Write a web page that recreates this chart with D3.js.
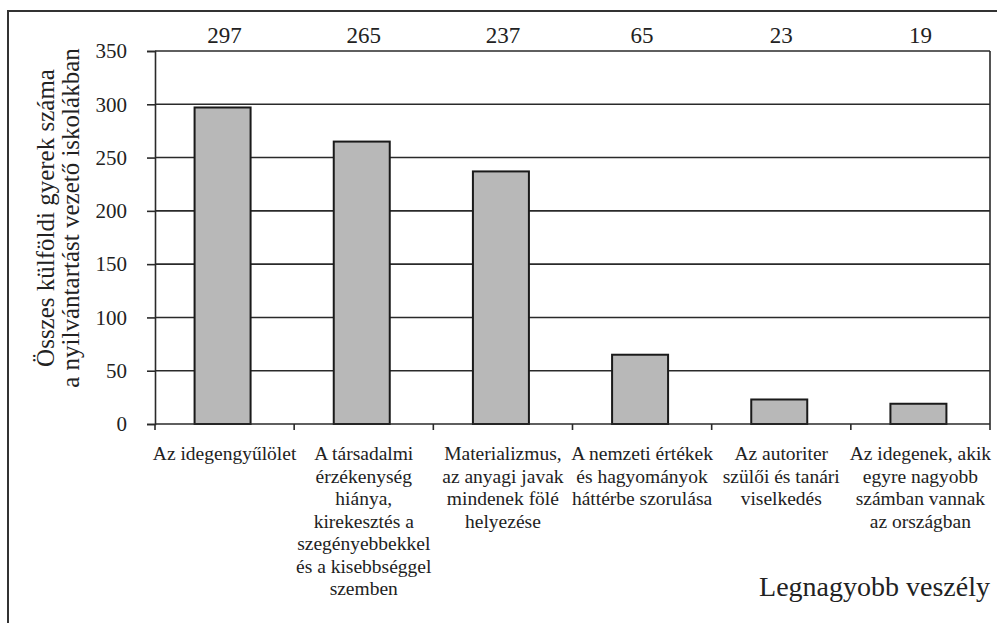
<!DOCTYPE html>
<html>
<head>
<meta charset="utf-8">
<script src="https://cdn.jsdelivr.net/npm/d3@7/dist/d3.min.js"></script>
<style>
  html, body { margin: 0; padding: 0; background: #fff; }
  svg { display: block; }
</style>
</head>
<body>
<svg id="chart" width="997" height="623"></svg>
<script>
// Category labels (line-broken as printed under each bar)
const categories = [
  ["Az idegengyűlölet"],
  ["A társadalmi", "érzékenység", "hiánya,", "kirekesztés a", "szegényebbekkel", "és a kisebbséggel", "szemben"],
  ["Materializmus,", "az anyagi javak", "mindenek fölé", "helyezése"],
  ["A nemzeti értékek", "és hagyományok", "háttérbe szorulása"],
  ["Az autoriter", "szülői és tanári", "viselkedés"],
  ["Az idegenek, akik", "egyre nagyobb", "számban vannak", "az országban"]
];
const values = [297, 265, 237, 65, 23, 19];
const yTicks = [0, 50, 100, 150, 200, 250, 300, 350];
const yTitle = ["Összes külföldi gyerek száma", "a nyilvántartást vezető iskolákban"];
const xTitle = "Legnagyobb veszély";

const SERIF = '"Liberation Serif", "Times New Roman", serif';
const INK = "#222";
const LINE = "#2a2a2a";

const svg = d3.select("#chart");
const x0 = 155, x1 = 990;
const yTop = 51, yBot = 424;

const x = d3.scaleBand().domain(d3.range(categories.length)).range([x0, x1]);
const y = d3.scaleLinear().domain([0, 350]).range([yBot, yTop]);

// outer frame
svg.append("rect").attr("x", 8).attr("y", 11).attr("width", 1000).attr("height", 700)
  .attr("fill", "none").attr("stroke", "#333").attr("stroke-width", 2);

// horizontal gridlines
svg.append("g").selectAll("line").data(yTicks.filter(d => d > 0)).join("line")
  .attr("x1", x0).attr("x2", x1)
  .attr("y1", d => y(d)).attr("y2", d => y(d))
  .attr("stroke", LINE).attr("stroke-width", 1.6);

// right border of plot area
svg.append("line").attr("x1", x1).attr("x2", x1).attr("y1", yTop).attr("y2", yBot)
  .attr("stroke", LINE).attr("stroke-width", 1.6);

// bars
const barW = 56;
svg.append("g").selectAll("rect").data(values).join("rect")
  .attr("x", (d, i) => x(i) + x.bandwidth() / 2 - barW / 2 - 2)
  .attr("width", barW)
  .attr("y", d => y(d))
  .attr("height", d => y(0) - y(d))
  .attr("fill", "#b8b8b8")
  .attr("stroke", "#1a1a1a").attr("stroke-width", 2);

// y axis
const yAxis = d3.axisLeft(y).tickValues(yTicks).tickSize(8).tickPadding(20);
const gy = svg.append("g").attr("transform", `translate(${x0},0)`).call(yAxis);
gy.select(".domain").attr("stroke", LINE).attr("stroke-width", 1.6);
gy.selectAll(".tick line").attr("stroke", LINE).attr("stroke-width", 1.6);
gy.selectAll(".tick text").attr("font-size", 21).attr("fill", INK)
  .style("font-family", SERIF);

// x axis baseline with ticks at category boundaries
svg.append("line").attr("x1", x0).attr("x2", x1).attr("y1", yBot).attr("y2", yBot)
  .attr("stroke", LINE).attr("stroke-width", 1.6);
const bounds = d3.range(categories.length + 1).map(i => x0 + i * x.bandwidth());
svg.append("g").selectAll("line").data(bounds).join("line")
  .attr("x1", d => d).attr("x2", d => d)
  .attr("y1", yBot).attr("y2", yBot + 6)
  .attr("stroke", LINE).attr("stroke-width", 1.6);

// category labels
const cl = svg.append("g").attr("font-size", 19.5).attr("fill", INK)
  .style("font-family", SERIF).attr("text-anchor", "middle");
categories.forEach((lines, i) => {
  const cx = x(i) + x.bandwidth() / 2;
  const t = cl.append("text").attr("x", cx).attr("y", 460).style("font-family", SERIF);
  lines.forEach((s, j) => t.append("tspan").attr("x", cx).attr("dy", j === 0 ? 0 : 22.5).text(s));
});

// value labels above plot
svg.append("g").selectAll("text").data(values).join("text")
  .attr("x", (d, i) => x(i) + x.bandwidth() / 2)
  .attr("y", 43)
  .attr("text-anchor", "middle")
  .style("font-family", SERIF)
  .attr("font-size", 23).attr("fill", INK)
  .text(d => d);

// y axis title
const yt = svg.append("text").attr("transform", "rotate(-90)")
  .attr("text-anchor", "middle").style("font-family", SERIF)
  .attr("font-size", 25).attr("fill", INK);
yTitle.forEach((s, j) => yt.append("tspan").attr("x", -218).attr("y", 54 + j * 25).text(s));

// x axis title
svg.append("text").attr("x", 990).attr("y", 596).attr("text-anchor", "end")
  .style("font-family", SERIF)
  .attr("font-size", 28).attr("fill", INK).text(xTitle);
</script>
</body>
</html>
